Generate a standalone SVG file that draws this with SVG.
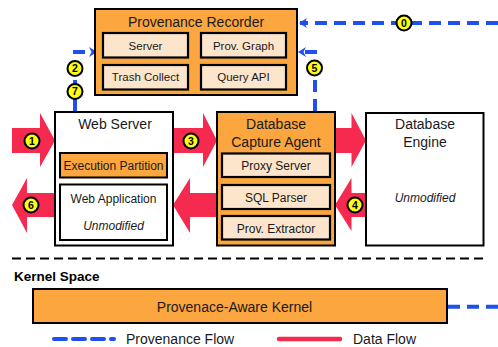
<svg xmlns="http://www.w3.org/2000/svg" width="498" height="347" viewBox="0 0 498 347">
<defs>
<style>
text{font-family:"Liberation Sans",Arial,sans-serif;fill:#1a1a1a;text-anchor:middle}
.org{fill:#FBA63F;stroke:#000;stroke-width:2}
.lt{fill:#FDE5CC;stroke:#000;stroke-width:2.2}
.wh{fill:#fff;stroke:#000;stroke-width:2}
.t14{font-size:14px}
.t12{font-size:12px}
.t115{font-size:11.5px}
.it{font-style:italic}
.prov{fill:none;stroke:#1E50F0;stroke-width:4;stroke-dasharray:12 7}
.data{fill:#F52A4E}
.num circle{fill:#FFFF10;stroke:#000;stroke-width:2}
.num text{font-size:10.5px;font-weight:bold;fill:#000}
</style>
<marker id="ah" markerWidth="10" markerHeight="10" refX="7" refY="5" orient="auto" markerUnits="userSpaceOnUse">
<path d="M0,0 L8,5 L0,10 L2.5,5 Z" fill="#1E50F0"/>
</marker>
</defs>

<g id="connectors">
<polygon class="data" points="12,128 40,128 40,113 55,140.5 40,167 40,153 12,153"/>
<polygon class="data" points="173,128 203,128 203,113 217,140.5 203,167 203,153 173,153"/>
<polygon class="data" points="335,128 351.5,128 351.5,113 366,140.5 351.5,167 351.5,153 335,153"/>
<polygon class="data" points="55,193 27,193 27,178 12,205 27,233 27,217 55,217"/>
<polygon class="data" points="217,193 190,193 190,178 173,205 190,233 190,217 217,217"/>
<polygon class="data" points="366,193 351.5,193 351.5,178 335,205 351.5,231 351.5,217 366,217"/>
<path class="prov" d="M498,23 H300" marker-end="url(#ah)"/>
<path class="prov" d="M75,111 V52 H96" marker-end="url(#ah)"/>
<path class="prov" d="M315,111 V52 H299" marker-end="url(#ah)"/>
<path class="prov" d="M448,306.7 H498"/>
<path d="M12,258.5 H487" fill="none" stroke="#000" stroke-width="2" stroke-dasharray="9 5"/>
</g>

<g id="recorder">
<rect class="org" x="95" y="9" width="202" height="86"/>
<text class="t14" x="196" y="26.5">Provenance Recorder</text>
</g>
<g id="server"><rect class="lt" x="103" y="33" width="85" height="24.5"/><text class="t115" x="145.5" y="49.7">Server</text></g>
<g id="provgraph"><rect class="lt" x="201" y="33" width="85" height="24.5"/><text class="t115" x="243.5" y="49.7">Prov. Graph</text></g>
<g id="trash"><rect class="lt" x="103" y="65" width="85" height="24.5"/><text class="t115" x="145.5" y="81">Trash Collect</text></g>
<g id="queryapi"><rect class="lt" x="201" y="65" width="85" height="24.5"/><text class="t115" x="243.5" y="81">Query API</text></g>

<g id="webserver">
<rect class="wh" x="55" y="112" width="118" height="133.5"/>
<text class="t14" x="115" y="129">Web Server</text>
</g>
<g id="execpart"><rect class="org" x="60" y="153" width="107" height="24.5" stroke-width="2.2"/><text class="t12" x="113.5" y="170.2">Execution Partition</text></g>
<g id="webapp"><rect class="wh" x="60" y="184.5" width="107" height="55.5" stroke-width="2.2"/>
<text class="t12" x="113.5" y="202.5">Web Application</text>
<text class="t12 it" x="113.5" y="230">Unmodified</text></g>

<g id="captureagent">
<rect class="org" x="217" y="112" width="118" height="133.5"/>
<text class="t14" x="276" y="129">Database</text>
<text class="t14" x="276" y="146.5">Capture Agent</text>
</g>
<g id="proxy"><rect class="lt" x="222" y="153.5" width="108" height="23.5"/><text class="t12" x="276" y="170">Proxy Server</text></g>
<g id="sqlparser"><rect class="lt" x="222" y="185" width="108" height="24"/><text class="t12" x="276" y="201.5">SQL Parser</text></g>
<g id="extractor"><rect class="lt" x="222" y="216" width="108" height="23.5"/><text class="t12" x="276" y="232.5">Prov. Extractor</text></g>

<g id="dbengine">
<rect class="wh" x="366" y="113" width="117.5" height="132.5"/>
<text class="t14" x="425" y="129">Database</text>
<text class="t14" x="425" y="146.5">Engine</text>
<text class="t12 it" x="425" y="202">Unmodified</text>
</g>

<g id="kernelspace"><text x="14" y="280.5" style="font-size:13.5px;font-weight:bold;text-anchor:start;fill:#000">Kernel Space</text></g>
<g id="kernel">
<rect class="org" x="33" y="289" width="414" height="34"/>
<text class="t14" x="234.5" y="311.5">Provenace-Aware Kernel</text>
</g>

<g id="labels">
<g class="num"><circle cx="404" cy="23" r="7.5"/><text x="404" y="26.8">0</text></g>
<g class="num"><circle cx="32" cy="141" r="7.5"/><text x="32" y="144.8">1</text></g>
<g class="num"><circle cx="75" cy="68.5" r="7.5"/><text x="75" y="72.3">2</text></g>
<g class="num"><circle cx="191" cy="141" r="7.5"/><text x="191" y="144.8">3</text></g>
<g class="num"><circle cx="355" cy="205" r="7.5"/><text x="355" y="208.8">4</text></g>
<g class="num"><circle cx="314.5" cy="68" r="7.5"/><text x="314.5" y="71.8">5</text></g>
<g class="num"><circle cx="31" cy="205" r="7.5"/><text x="31" y="208.8">6</text></g>
<g class="num"><circle cx="75" cy="91.5" r="7.5"/><text x="75" y="95.3">7</text></g>
</g>

<g id="legend">
<path class="prov" d="M54,339 H114" stroke-linecap="round" stroke-dasharray="10 10"/>
<text class="t14" x="126" y="344" style="text-anchor:start">Provenance Flow</text>
<path d="M279,339 H340" stroke="#F52A4E" stroke-width="4.5" stroke-linecap="round" fill="none"/>
<text class="t14" x="353" y="344" style="text-anchor:start">Data Flow</text>
</g>
</svg>
